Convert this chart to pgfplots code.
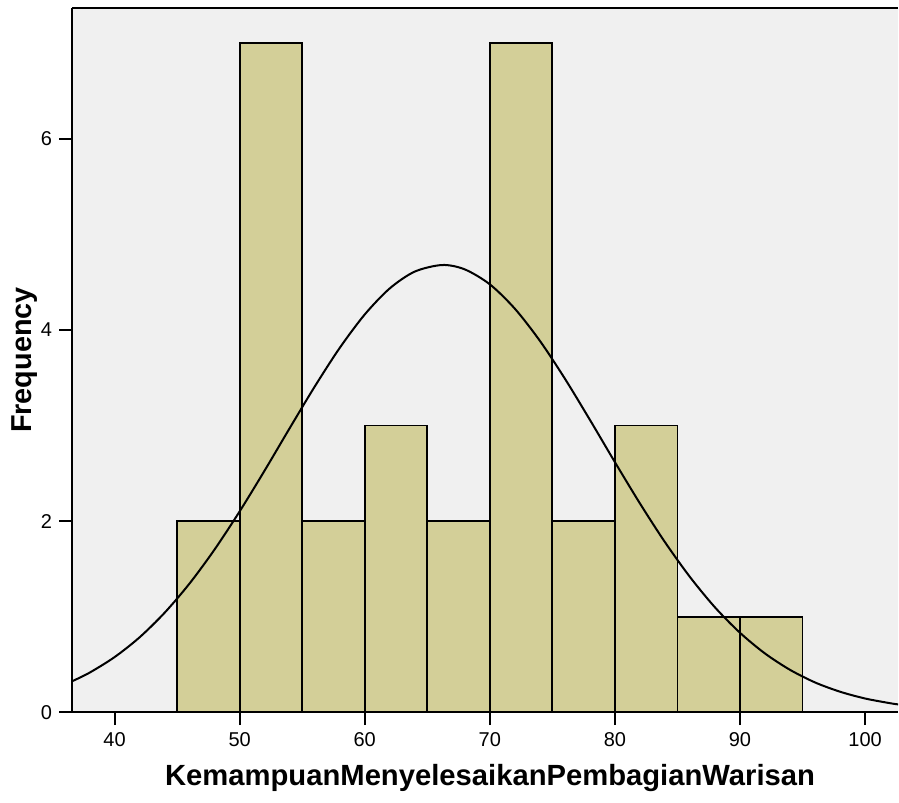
\documentclass[border=0pt]{standalone}
\usepackage{fontspec}
\setmainfont{Liberation Sans}
\usepackage{pgfplots}
\pgfplotsset{compat=1.18}
\definecolor{barfill}{HTML}{D3CF98}
\definecolor{bggray}{HTML}{F0F0F0}
\begin{document}
\begin{tikzpicture}
\begin{axis}[
  scale only axis,
  width=413pt, height=352pt,
  xmin=36.6, xmax=102.65, ymin=0, ymax=7.37,
  axis x line*=box, axis y line*=left,
  axis line style={line width=1pt},
  xtick={40,50,...,100}, ytick={0,2,4,6},
  xtick pos=bottom, ytick pos=left,
  tick align=outside, major tick length=6.5pt,
  tick style={line width=1pt, black},
  minor tick num=0,
  /pgf/number format/assume math mode=true,
  ticklabel style={font=\fontsize{10}{12}\selectfont},
  axis background/.style={fill=bggray},
  every axis x label/.style={at={(axis description cs:0.506,-0.094)}, anchor=center, font=\fontsize{14.6}{17}\selectfont\bfseries},
  every axis y label/.style={at={(axis description cs:-0.058,0.5)}, anchor=center, rotate=90, font=\fontsize{14.4}{17}\selectfont\bfseries},
  xlabel={KemampuanMenyelesaikanPembagianWarisan},
  ylabel={Frequency},
  clip=true,
]
\addplot[ybar interval, fill=barfill, draw=black, line width=0.9pt] coordinates {
  (45,2) (50,7) (55,2) (60,3) (65,2) (70,7) (75,2) (80,3) (85,1) (90,1) (95,1)
};
\addplot[smooth, black, line width=1pt, mark=none] coordinates {
  (36.6,0.323) (38,0.413) (40,0.576) (42,0.783) (44,1.040) (46,1.347) (48,1.703)
  (50,2.101) (52,2.529) (54,2.972) (56,3.407) (58,3.812) (60,4.162) (62,4.435)
  (64,4.611) (66.2,4.680) (68,4.634) (70,4.478) (72,4.223) (74,3.887) (76,3.491)
  (78,3.060) (80,2.617) (82,2.185) (84,1.780) (86,1.415) (88,1.097) (90,0.831)
  (92,0.614) (94,0.443) (96,0.311) (98,0.214) (100,0.143) (102,0.0937) (102.65,0.0812)
};
\end{axis}
\pgfresetboundingbox
\path (-36pt,-45pt) rectangle (413.4pt,356pt);
\end{tikzpicture}
\end{document}
